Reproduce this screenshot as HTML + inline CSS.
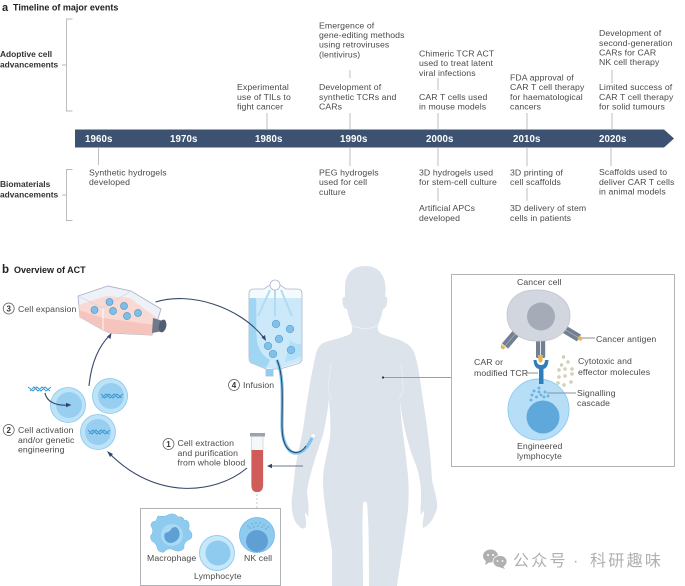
<!DOCTYPE html>
<html><head><meta charset="utf-8">
<style>
html,body{margin:0;padding:0;background:#fff;width:685px;height:586px;overflow:hidden}
svg{display:block;filter:blur(.25px)}
text{font-family:"Liberation Sans","Noto Sans CJK SC",sans-serif;font-size:8.7px;fill:#4a4a4a;letter-spacing:.1px}
.b{font-weight:bold;fill:#333;font-size:8.4px;letter-spacing:0}
.y{font-weight:bold;font-size:9.7px;fill:#fff}
.n{font-weight:bold;font-size:8px;fill:#333;text-anchor:middle;letter-spacing:0}
.h{font-weight:bold;font-size:9px;fill:#222;letter-spacing:0}
.w{font-size:16px;fill:#b0b0b0;letter-spacing:2.3px}
.l{stroke:#b5b8bc;stroke-width:.9;fill:none}
.a{stroke:#34496a;stroke-width:1.1;fill:none}
</style></head><body>
<svg width="685" height="586" viewBox="0 0 685 586" xmlns="http://www.w3.org/2000/svg">
<rect width="685" height="586" fill="#fff"/>

<!-- Section a -->
<text x="2" y="11" class="h" style="font-size:11px">a</text>
<text x="13" y="10.500" class="h">Timeline of major events</text>
<path class="l" d="M72.500 19H66.500V111H72.500M62 65H66.500M72.500 169.500H66.500V220.500H72.500M62 195H66.500"/>
<text x="0" y="57" class="b">Adoptive cell</text><text x="0" y="67.500" class="b">advancements</text>
<text x="0" y="187" class="b">Biomaterials</text><text x="0" y="197.500" class="b">advancements</text>

<path d="M75 129.500H664L674 138.500L664 147.500H75Z" fill="#3d5170"/>
<text x="85" y="142" class="y">1960s</text><text x="170" y="142" class="y">1970s</text><text x="255" y="142" class="y">1980s</text><text x="340" y="142" class="y">1990s</text><text x="426" y="142" class="y">2000s</text><text x="513" y="142" class="y">2010s</text><text x="599" y="142" class="y">2020s</text>

<path class="l" d="M267 113V129M98.500 148V165M350 113V129M350 70V78M350 148V166M438 113V129M438 78V90M438 148V166M438 188V201M527 113V129M527 148V166M527 188V201M612 113V129M612 70V83M611 148V166"/>

<text x="237" y="90">Experimental</text><text x="237" y="100">use of TILs to</text><text x="237" y="109.700">fight cancer</text>
<text x="89" y="175.300">Synthetic hydrogels</text><text x="89" y="185">developed</text>
<text x="319" y="28.300">Emergence of</text><text x="319" y="37.800">gene-editing methods</text><text x="319" y="47.700">using retroviruses</text><text x="319" y="57.300">(lentivirus)</text>
<text x="319" y="90">Development of</text><text x="319" y="100">synthetic TCRs and</text><text x="319" y="109.700">CARs</text>
<text x="319" y="175.300">PEG hydrogels</text><text x="319" y="185">used for cell</text><text x="319" y="195">culture</text>
<text x="419" y="56.300">Chimeric TCR ACT</text><text x="419" y="66">used to treat latent</text><text x="419" y="76">viral infections</text>
<text x="419" y="100">CAR T cells used</text><text x="419" y="109.700">in mouse models</text>
<text x="419" y="175.300">3D hydrogels used</text><text x="419" y="185">for stem-cell culture</text>
<text x="419" y="211">Artificial APCs</text><text x="419" y="221">developed</text>
<text x="510" y="80.500">FDA approval of</text><text x="510" y="90">CAR T cell therapy</text><text x="510" y="100">for haematological</text><text x="510" y="109.700">cancers</text>
<text x="510" y="175.300">3D printing of</text><text x="510" y="185">cell scaffolds</text>
<text x="510" y="211">3D delivery of stem</text><text x="510" y="221">cells in patients</text>
<text x="599" y="36">Development of</text><text x="599" y="46">second-generation</text><text x="599" y="55.500">CARs for CAR</text><text x="599" y="65">NK cell therapy</text>
<text x="599" y="90">Limited success of</text><text x="599" y="100">CAR T cell therapy</text><text x="599" y="109.700">for solid tumours</text>
<text x="599" y="175">Scaffolds used to</text><text x="599" y="185">deliver CAR T cells</text><text x="599" y="194.500">in animal models</text>

<!-- Section b -->
<text x="2" y="273" class="h" style="font-size:11.500px">b</text>
<text x="14" y="273" class="h">Overview of ACT</text>

<!-- Body -->
<path fill="#dde3eb" d="M365 266C352 266 345 274 345 288C345 291 345 295 345 297C342 296 342 301 343 305C344 309 346 309 347 309C348 316 351 322 352 326C352.500 331 352 332 350 334C343 338 330 340 323 343C318 346 316 352 315 358C312 372 308 393 305 415C303 435 298 450 295 470C294 480 293 490 292 497C291 505 292 515 295 521C298 526 302 530 305 528C307 525 306 520 305 515C305 510 307 515 308 517C309.500 510 308 500 307 493C308 480 316 455 323 435C326 420 328 410 329 398C330 415 331 425 330 437C328 452 323 465 323 480C323 500 328 525 332 550C332 565 332 575 332 586H363C363 560 362 525 363 503C364 501 366 501 367 503C369 525 369 560 369 586H397C400 565 405 535 408 510C409 495 409 480 407 467C405 445 401 425 400 400C402 420 408 445 414 460C418 470 421 480 421 495C421 503 420 510 421 515C423 512 423 510 424 512C424 518 422 524 423 528C428 526 434 520 437 508C438 500 434 490 432 480C431 455 427 425 423 400C420 380 418 362 414 352C411 346 406 342 397 339C388 336 382 335 379 332C377 329 378 327 378 325C380 320 382 315 383 309C385 309 387 306 387 302C388 297 386 296 385 297C386 288 386 280 381 273C377 268 372 266 365 266Z"/>
<path d="M351 325Q365 332 379 325" stroke="#eef1f5" stroke-width=".7" fill="none"/>
<path d="M331 363Q329 378 328 388Q329 396 332 399M401 363Q403 378 403 388Q402 396 399 399" stroke="#eef1f5" stroke-width=".7" fill="none"/>
<path d="M383 377.500H451" stroke="#9a9fa6" stroke-width=".9" fill="none"/>
<circle cx="383" cy="377.500" r="1.100" fill="#22303f"/>

<!-- Flask -->
<path d="M78 296L108 286L131 291L161 309L156 325L152 335L110 333L103 330L80 317Z" fill="#eef2f8" stroke="#a9b4c8" stroke-width=".9"/>
<path d="M79 305L87 302L107 296L130 298L157 318L152 335L110 333L103 330L80 317Z" fill="#f9d9d3"/>
<path d="M79 310L103 318L155 325L152 335L110 333L103 330L80 317Z" fill="#f5c4bd"/>
<path d="M103 308V330" stroke="#fff" stroke-width=".9" fill="none"/>
<path d="M78 296L103 308L131 291" stroke="#c9d2e0" stroke-width=".6" fill="none"/>
<path d="M153 318L163 321L166 326L163 331L152 333Z" fill="#6f7a8c"/>
<ellipse cx="162.500" cy="326" rx="3.800" ry="6.500" fill="#525e72" transform="rotate(12 162.500 326)"/>
<g fill="#7fbfe6" stroke="#4f9cd1" stroke-width=".7">
<circle cx="94.500" cy="310" r="3.500"/><circle cx="109.500" cy="302" r="3.500"/><circle cx="113" cy="311" r="3.500"/><circle cx="124" cy="306" r="3.500"/><circle cx="127" cy="316" r="3.500"/><circle cx="138" cy="313" r="3.500"/>
</g>

<!-- Bag -->
<path d="M249 294Q249 289 254 289H264L270 285Q275 280 280 285L286 289H297Q302 289 302 294V358Q302 363 297 364L280 369H273V376H266V369L254 364Q249 363 249 358Z" fill="#f5fafd" stroke="#aab7cc" stroke-width=".8"/>
<path d="M249.500 298H301.500V358Q301.500 362 296 363L279 368.500H266.500L254 364Q249.500 362 249.500 358Z" fill="#cce9f9"/>
<path d="M249.500 298H256C257 315 255 335 258 345Q261 355 270 360L266 368L254 364Q249.500 362 249.500 358Z" fill="#9ed6f4"/>
<path d="M290 340Q296 345 301 344V356Q295 360 285 362Z" fill="#b4e0f7"/>
<path d="M266 369H273V376H266Z" fill="#8fcdef"/>
<path d="M258 316L270 290M275 316V290M292 316L281 290" stroke="#aedcf5" stroke-width="2" fill="none"/>
<circle cx="275" cy="285" r="5" fill="#fff" stroke="#aab7cc" stroke-width=".8"/>
<g fill="#84bfe7" stroke="#5fa4d6" stroke-width=".7">
<circle cx="276" cy="324" r="3.800"/><circle cx="290" cy="329" r="3.800"/><circle cx="279" cy="339" r="3.800"/><circle cx="268" cy="346" r="3.800"/><circle cx="291" cy="350" r="3.800"/><circle cx="273" cy="354" r="3.800"/>
</g>

<!-- Tube -->
<path d="M277 360C284 376 282 400 282 425C282 445 290 454 297 453C305 452 309 444 312 438" stroke="#7fc3ec" stroke-width="3.200" fill="none"/>
<path d="M277 360C284 376 282 400 282 425C282 445 288 452 296 452.500C301 452.500 304 449 306 446" stroke="#2a4a6f" stroke-width="1.100" fill="none"/>
<path d="M310 436Q313 432 316 435L314 438.500Q312 436 310 436Z" fill="#fff" stroke="#c8ccd2" stroke-width=".4"/>

<!-- Flow arrows -->
<path class="a" d="M155.500 302C190 291 240 307 264 338"/>
<path d="M266 341L261.500 337.500L265 335Z" fill="#34496a"/>
<path class="a" d="M247 468C215 495 155 500 109 453"/>
<path d="M107 451L113 454L110 457Z" fill="#34496a"/>
<path class="a" d="M89 386C91 365 98 347 110 335"/>
<path d="M111.500 333L110.500 339L107 336.500Z" fill="#34496a"/>
<path d="M303 466H270" stroke="#6b7a91" stroke-width="1.100"/>
<path d="M267 466L272 463.800V468.200Z" fill="#34496a"/>

<!-- Blood tube -->
<path d="M251.500 435H263V485Q263 492 257 492Q251.500 492 251.500 485Z" fill="#f6f7f9" stroke="#c2c8d2" stroke-width=".6"/>
<path d="M251.500 450H263V485Q263 492 257 492Q251.500 492 251.500 485Z" fill="#cf5c58"/>
<rect x="250" y="433" width="15" height="3.500" fill="#9aa3b0"/>
<path d="M257 494V508" stroke="#c4c8cd" stroke-width="1" stroke-dasharray="2 2"/>

<!-- Cell box -->
<rect x="140.500" y="508.500" width="140" height="77" fill="#fff" stroke="#a8acb1" stroke-width=".9"/>
<path d="M158 516Q165 517 168 515Q174 512 178 517Q183 516 184 520Q190 520 189 527Q188 530 191 532Q194 538 188 540Q183 543 184 548Q180 553 174 550Q168 547 164 552Q158 553 157 547Q156 543 152 541Q149 537 152 534Q154 530 151 526Q151 521 156 521Z" fill="#8fcbef" stroke="#78bbe6" stroke-width=".6"/>
<circle cx="172" cy="535" r="11" fill="#a9daf5"/>
<path d="M165 533Q170 532 172 528Q177 525 179 531Q181 537 176 541Q170 545 166 541Q163 537 165 533Z" fill="#5f9fd4"/>
<circle cx="217" cy="553" r="17.500" fill="#c8e7f9" stroke="#8ecbee" stroke-width=".9"/>
<circle cx="218" cy="553" r="12.500" fill="#8fcbef"/>
<circle cx="257" cy="535" r="17.500" fill="#8fcbef" stroke="#70b6e4" stroke-width=".8"/>
<circle cx="257" cy="541" r="11" fill="#5f9fd4"/>
<g fill="#5f9fd4"><circle cx="248" cy="526" r=".7"/><circle cx="252" cy="524" r=".7"/><circle cx="256" cy="523" r=".7"/><circle cx="260" cy="523" r=".7"/><circle cx="264" cy="525" r=".7"/><circle cx="268" cy="527" r=".7"/><circle cx="250" cy="528" r=".7"/><circle cx="254" cy="527" r=".7"/><circle cx="258" cy="526" r=".7"/><circle cx="262" cy="527" r=".7"/><circle cx="266" cy="529" r=".7"/></g>
<text x="147" y="561">Macrophage</text><text x="244" y="561">NK cell</text><text x="194" y="579">Lymphocyte</text>

<!-- Left cells -->
<g>
<circle cx="68" cy="405" r="17.500" fill="#bce3f8" stroke="#86c6ec" stroke-width=".8"/><circle cx="69" cy="405" r="13" fill="#98cff1"/>
<circle cx="110" cy="396" r="17.500" fill="#bce3f8" stroke="#86c6ec" stroke-width=".8"/><circle cx="111" cy="396" r="13" fill="#98cff1"/>
<circle cx="98" cy="432" r="17.500" fill="#bce3f8" stroke="#86c6ec" stroke-width=".8"/><circle cx="98" cy="432" r="13" fill="#98cff1"/>
</g>
<g stroke="#3f98d4" stroke-width="1" fill="none">
<path d="M28 387L33 391L37 387L41 391L45 387L50 391M30 391L34 387L38 391L42 387L46 391L51 387"/>
<path d="M101 394L105 398L109 394L113 398L117 394L122 398M102 398L106 394L110 398L114 394L118 398L123 394"/>
<path d="M88 430L92 434L96 430L100 434L104 430L109 434M89 434L93 430L97 434L101 430L105 434L110 430"/>
</g>
<path class="a" d="M45 393C47 403 58 406 69 405"/>
<path d="M71.500 405L66 402.800V407.200Z" fill="#34496a"/>

<!-- Step labels -->
<g fill="#fff" stroke="#555" stroke-width=".7">
<circle cx="8.700" cy="308.500" r="5.500"/><circle cx="8.700" cy="430" r="5.500"/><circle cx="168.500" cy="444" r="5.500"/><circle cx="234" cy="385" r="5.500"/>
</g>
<text x="8.700" y="311.300" class="n">3</text><text x="8.700" y="432.800" class="n">2</text><text x="168.500" y="446.800" class="n">1</text><text x="234" y="387.800" class="n">4</text>
<text x="18" y="312">Cell expansion</text>
<text x="18" y="433">Cell activation</text><text x="18" y="443">and/or genetic</text><text x="18" y="452.500">engineering</text>
<text x="177.500" y="446">Cell extraction</text><text x="177.500" y="456">and purification</text><text x="177.500" y="465.500">from whole blood</text>
<text x="243" y="388">Infusion</text>

<!-- Right box -->
<rect x="451.500" y="274.500" width="223" height="192" fill="#fff" stroke="#a8acb1" stroke-width=".9"/>
<text x="517" y="285">Cancer cell</text>
<path d="M517 332L505 346" stroke="#737f92" stroke-width="8" fill="none"/>
<path d="M517 332L505 346" stroke="#a3acba" stroke-width=".8" fill="none"/>
<path d="M564 329L579 338" stroke="#737f92" stroke-width="8" fill="none"/>
<path d="M564 329L579 338" stroke="#a3acba" stroke-width=".8" fill="none"/>
<rect x="536" y="337" width="4.200" height="21" rx="1.500" fill="#737f92"/><rect x="541" y="337" width="4.200" height="21" rx="1.500" fill="#737f92"/>
<path d="M507 315C507 298 520 290 535 290C552 289 570 298 570 316C570 330 558 341 540 341C522 342 507 332 507 315Z" fill="#d2d6df" stroke="#c1c6d1" stroke-width=".8"/>
<circle cx="541" cy="316.500" r="14" fill="#a6abb8"/>
<circle cx="538.500" cy="409.500" r="30.500" fill="#b6dff7" stroke="#8ecbee" stroke-width=".9"/>
<circle cx="543" cy="417" r="16.500" fill="#5fa8dc"/>
<path d="M533.500 360Q534 368 539 369V384H543.500V369Q548 368 548.500 360L545 360Q545 365 541 365Q537 365 536.500 360Z" fill="#2f7fbd"/>
<path d="M538 355H543L542.500 361L540.500 363L538.500 361Z" fill="#e3b658"/>
<path d="M501.500 344L505.500 347.500L503.500 349.500L500.500 348Z" fill="#e3b658"/>
<path d="M579 335.500L583 338L581 341L577.500 339.500Z" fill="#e3b658"/>
<g fill="#d5d3b8" stroke="#b9b896" stroke-width=".4">
<circle cx="563.500" cy="357" r="1.500"/><circle cx="561.500" cy="365" r="1.500"/><circle cx="568" cy="362" r="1.500"/><circle cx="559" cy="370" r="1.500"/><circle cx="565" cy="369" r="1.500"/><circle cx="572" cy="369" r="1.500"/><circle cx="559" cy="377" r="1.500"/><circle cx="565" cy="376" r="1.500"/><circle cx="572" cy="374" r="1.500"/><circle cx="558" cy="383" r="1.500"/><circle cx="564" cy="385" r="1.500"/><circle cx="571" cy="382" r="1.500"/>
</g>
<g fill="#6db3e2">
<circle cx="539" cy="388" r="1.500"/><circle cx="534" cy="391" r="1.500"/><circle cx="539" cy="392" r="1.500"/><circle cx="532" cy="395" r="1.500"/><circle cx="545" cy="392" r="1.500"/><circle cx="541" cy="395" r="1.500"/><circle cx="536.500" cy="397" r="1.500"/><circle cx="548" cy="396" r="1.500"/><circle cx="531" cy="400" r="1.500"/><circle cx="544" cy="397" r="1.500"/>
</g>
<path class="l" style="stroke:#8a9098" d="M582 338H595M527 373H538M547 393H576"/>
<text x="596" y="342">Cancer  antigen</text>
<text x="474" y="365">CAR or</text><text x="474" y="376">modified TCR</text>
<text x="578" y="364">Cytotoxic and</text><text x="578" y="375">effector molecules</text>
<text x="577" y="396">Signalling</text><text x="577" y="406">cascade</text>
<text x="517" y="449">Engineered</text><text x="517" y="459">lymphocyte</text>

<!-- Watermark -->
<ellipse cx="490.500" cy="556" rx="7.500" ry="6.500" fill="#b0b0b0"/>
<path d="M486 561L485 565L490 562Z" fill="#b0b0b0"/>
<ellipse cx="500" cy="561.500" rx="7" ry="6" fill="#b0b0b0" stroke="#fff" stroke-width=".8"/>
<path d="M503 566L505 569L499 567Z" fill="#b0b0b0"/>
<g fill="#fff"><circle cx="488" cy="555" r="1"/><circle cx="493" cy="555" r="1"/><circle cx="497.500" cy="561" r=".9"/><circle cx="502.500" cy="561" r=".9"/></g>
<text x="513" y="566" class="w">公众号</text>
<text x="573" y="566" class="w">·</text>
<text x="590" y="566" class="w">科研趣味</text>
</svg>
</body></html>
